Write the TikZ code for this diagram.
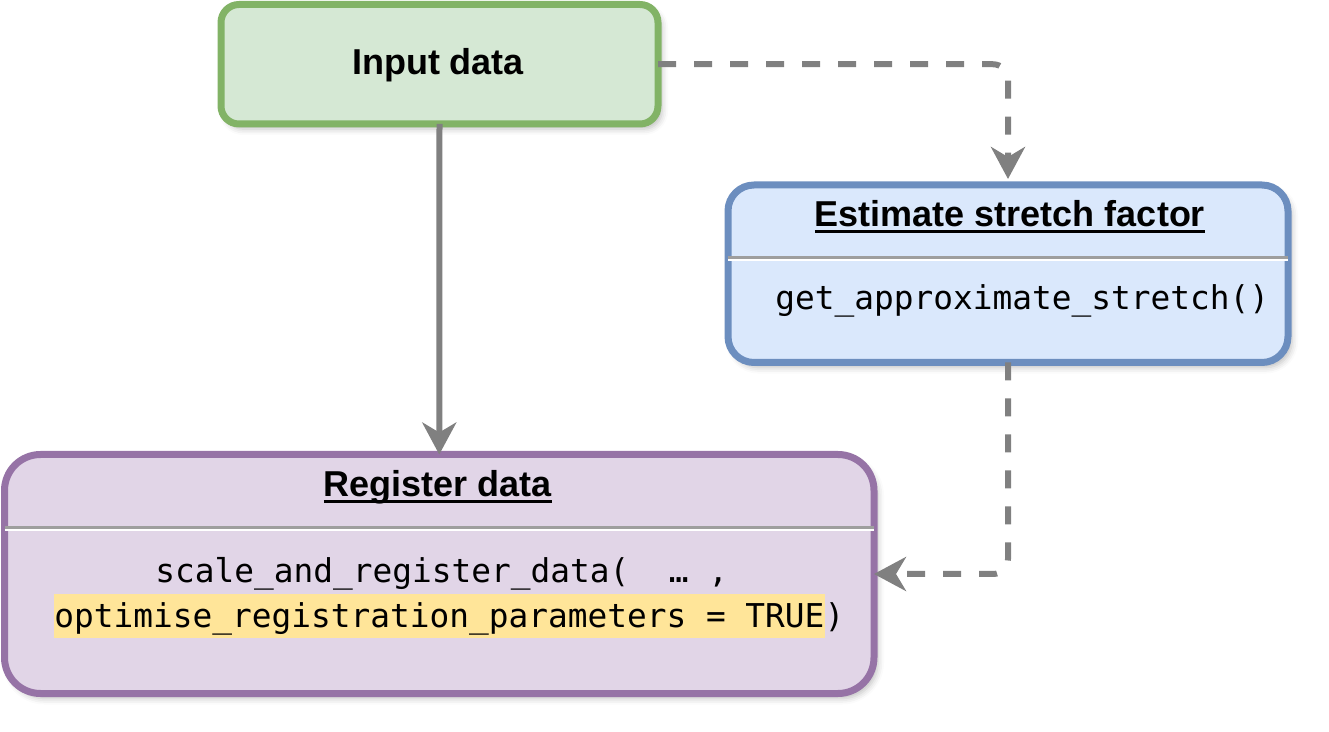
\documentclass[tikz,border=0pt]{standalone}
\usepackage{fontspec}
\setmainfont{Liberation Sans}
\setmonofont{DejaVu Sans Mono}
\usetikzlibrary{arrows.meta,shadows.blur}

\definecolor{inputfill}{HTML}{D5E8D4}
\definecolor{inputline}{HTML}{82B366}
\definecolor{stretchfill}{HTML}{DAE8FC}
\definecolor{stretchline}{HTML}{6C8EBF}
\definecolor{registerfill}{HTML}{E1D5E7}
\definecolor{registerline}{HTML}{9673A6}
\definecolor{flowgray}{HTML}{808080}
\definecolor{sepgray}{HTML}{9E9E9E}
\definecolor{hlyellow}{HTML}{FFE599}

\newcommand{\ultitle}[1]{\setbox0\hbox{#1}\rlap{\rule[-3.2pt]{\wd0}{1.5pt}}\box0}
\newcommand{\hlcode}[1]{{\setlength{\fboxsep}{0pt}\colorbox{hlyellow}{\rule[-5.5pt]{0pt}{22pt}#1}}}

\begin{document}
\begin{tikzpicture}[x=0.5pt,y=-0.5pt,
  flowbox/.style={draw, line width=3.5pt, outer sep=0pt, inner sep=0pt,
    blur shadow={shadow xshift=2pt,shadow yshift=-2.5pt,shadow blur radius=3pt,shadow opacity=25}},
  titletext/.style={anchor=base, inner sep=0pt, font=\bfseries\fontsize{18}{22}\selectfont},
  codetext/.style={anchor=base west, inner sep=0pt, font=\ttfamily\fontsize{16.4}{20}\selectfont},
  sepline/.style={draw=sepgray, line width=1.5pt},
  flowline/.style={draw=flowgray, line width=3pt,
    -{Stealth[length=16pt,width=17pt,inset=5pt]}},
  dashline/.style={dash pattern=on 9pt off 9pt, rounded corners=7.5pt}]

\useasboundingbox (0,0) rectangle (1329,732);

% input
\node[flowbox, fill=inputfill, draw=inputline, rounded corners=9pt,
  minimum width=218.5pt, minimum height=59.75pt] (input) at (439.5,64.25) {};
\node[titletext] (inputtitle) at (438,75) {Input data};

% stretch factor
\node[flowbox, fill=stretchfill, draw=stretchline, rounded corners=13pt,
  minimum width=280pt, minimum height=88.75pt] (stretch) at (1008,273.75) {};
\node[titletext] (stretchtitle) at (1010,227) {\ultitle{Estimate stretch factor}};
\draw[sepline] (728,257.5) -- (1288,257.5);
\draw[white, line width=1pt] (728,260.5) -- (1288,260.5);
\node[codetext] (stretchcode) at (775,310) {get\_approximate\_stretch()};

% register
\node[flowbox, fill=registerfill, draw=registerline, rounded corners=18pt,
  minimum width=434.75pt, minimum height=119.5pt] (register) at (439.25,574) {};
\node[titletext] (registertitle) at (438,497) {\ultitle{Register data}};
\draw[sepline] (4.5,527.5) -- (874,527.5);
\draw[white, line width=1pt] (4.5,530.5) -- (874,530.5);
\node[codetext] (registercode1) at (155,582) {scale\_and\_register\_data(\ \ …\ ,};
\node[codetext] (registercode2) at (54,627) {\hlcode{optimise\_registration\_parameters = TRUE})};

% connectors
\draw[flowline] (input.south) -- (register.north);
\draw[flowline, dashline, shorten >=3pt] (input.east) -| (stretch.north);
\draw[flowline, dashline] (stretch.south) |- (register.east);
\end{tikzpicture}
\end{document}
